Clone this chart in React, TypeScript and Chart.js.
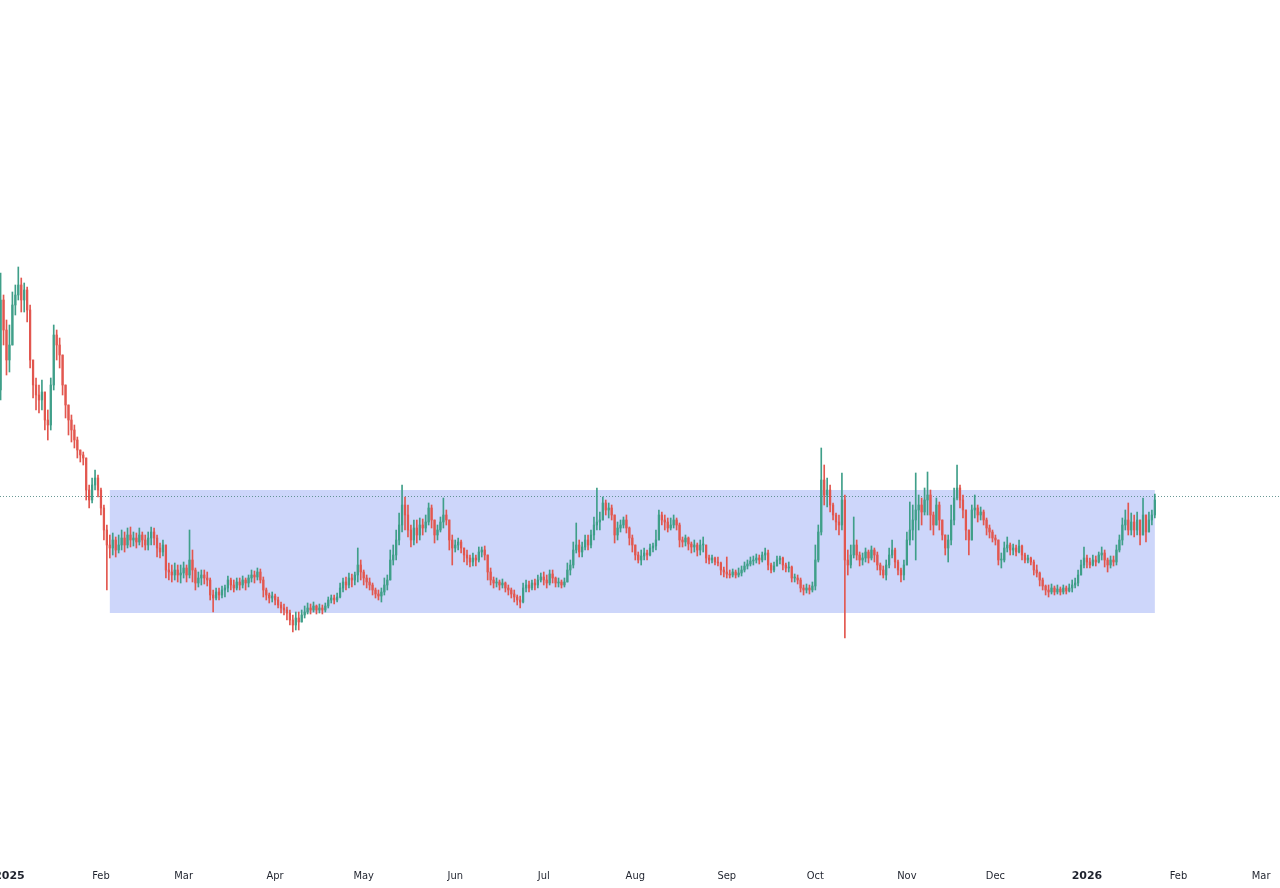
import React, { useEffect, useRef } from 'react';
import { Chart, registerables } from 'chart.js';

Chart.register(...registerables);

// Daily candles, first candle is day -3 (days counted from 1 Jan 2025)
const START_DAY = -3;
const FIRST_OPEN = 61.0;

const CLOSE = [
  70.0, 67.0, 64.0, 65.5, 69.5, 70.5, 71.5, 70.0, 71.0, 69.0,
  64.0, 61.5, 60.5, 60.0, 60.8, 58.0, 57.5, 61.5, 66.5, 65.5,
  64.5, 61.5, 59.5, 58.0, 57.0, 56.0, 55.0, 54.5, 54.2, 51.0,
  50.0, 51.5, 52.2, 51.0, 49.2, 47.0, 45.5, 45.2, 46.0, 45.0,
  45.5, 46.2, 45.5, 46.5, 46.0, 46.2, 45.8, 46.5, 46.0, 45.5,
  46.2, 46.8, 46.2, 45.2, 44.8, 45.5, 43.0, 42.8, 42.5, 43.0,
  42.5, 42.7, 43.2, 42.5, 44.0, 43.0, 41.7, 42.2, 42.5, 42.2,
  42.0, 40.5, 40.2, 40.8, 40.5, 41.0, 41.2, 42.0, 41.5, 41.2,
  41.8, 41.5, 42.0, 41.7, 42.2, 42.5, 42.3, 42.8, 42.0, 41.0,
  40.5, 40.2, 40.4, 40.0, 39.5, 39.2, 39.0, 38.7, 38.0, 37.5,
  38.2, 37.8, 38.5, 38.8, 39.2, 39.0, 39.4, 39.0, 39.2, 39.0,
  39.4, 40.0, 40.2, 40.0, 40.3, 41.2, 41.8, 41.5, 42.2, 42.0,
  42.5, 43.5, 42.8, 42.2, 41.8, 41.5, 41.0, 40.6, 40.4, 40.8,
  41.5, 42.0, 44.0, 44.5, 46.0, 47.5, 49.5, 48.5, 47.0, 46.0,
  47.2, 46.5, 47.5, 47.2, 47.8, 49.2, 48.0, 46.5, 47.0, 47.8,
  48.5, 48.0, 46.0, 45.2, 45.5, 45.8, 45.2, 44.5, 44.2, 43.8,
  44.2, 44.0, 44.8, 45.0, 44.5, 42.8, 42.0, 41.7, 41.8, 41.5,
  41.7, 41.2, 41.0, 40.6, 40.3, 40.0, 39.8, 41.2, 41.5, 41.2,
  41.7, 41.5, 42.0, 42.3, 42.0, 41.7, 42.6, 42.2, 41.7, 41.8,
  41.5, 41.8, 43.0, 43.5, 45.0, 45.5, 44.8, 45.3, 46.0, 45.5,
  46.5, 47.5, 47.8, 48.0, 49.7, 49.0, 49.2, 48.5, 46.5, 47.2,
  47.5, 48.0, 47.2, 46.2, 45.5, 44.5, 44.0, 44.4, 44.7, 44.5,
  45.2, 45.4, 46.0, 48.5, 48.0, 47.8, 47.2, 47.5, 48.0, 47.5,
  46.0, 45.8, 46.2, 45.6, 45.3, 45.5, 45.0, 45.5, 45.5, 44.2,
  44.0, 44.2, 43.8, 43.7, 43.0, 42.8, 42.6, 42.5, 42.8, 42.5,
  42.7, 43.0, 43.4, 43.6, 43.9, 44.0, 44.2, 44.0, 44.5, 44.7,
  43.5, 43.0, 43.4, 44.0, 44.2, 43.5, 43.2, 43.3, 42.2, 42.2,
  42.0, 41.2, 41.0, 41.2, 41.0, 41.4, 44.0, 46.8, 52.0, 50.5,
  51.0, 49.5, 48.5, 47.8, 47.5, 50.0, 44.0, 43.5, 44.5, 45.5,
  44.5, 44.0, 44.2, 44.8, 44.2, 45.0, 44.5, 43.5, 43.0, 42.5,
  43.5, 44.5, 45.0, 43.8, 43.0, 42.5, 43.5, 46.0, 47.0, 48.0,
  49.0, 49.5, 48.8, 50.0, 50.5, 48.5, 47.5, 49.5, 48.0, 46.5,
  45.2, 46.0, 48.0, 50.2, 51.2, 50.0, 49.0, 47.0, 46.0, 49.0,
  49.2, 48.5, 48.8, 48.0, 47.2, 46.8, 46.2, 46.0, 44.0, 44.0,
  45.2, 45.5, 45.0, 45.2, 44.8, 45.4, 44.5, 44.0, 44.2, 43.8,
  43.0, 42.7, 42.0, 41.4, 41.0, 40.8, 41.2, 40.8, 41.1, 40.8,
  41.2, 40.9, 41.2, 41.5, 41.7, 42.5, 43.5, 44.2, 43.8, 43.5,
  44.0, 43.8, 44.5, 44.7, 44.0, 43.5, 44.0, 43.8, 45.0, 46.0,
  47.5, 48.0, 47.0, 47.8, 47.0, 48.0, 46.5, 48.5, 46.8, 48.0,
  48.5, 50.0,
];

const HIGH = [
  72.7, 70.5, 68.0, 67.5, 70.8, 71.5, 73.3, 72.2, 71.7, 71.3,
  69.5, 64.0, 62.2, 61.5, 62.0, 60.5, 59.0, 62.2, 67.5, 67.0,
  66.2, 64.5, 61.5, 59.5, 58.5, 57.5, 56.3, 55.0, 54.8, 54.2,
  51.5, 52.2, 53.0, 52.5, 51.2, 49.5, 47.5, 46.5, 46.7, 46.3,
  46.5, 47.0, 46.8, 47.2, 47.3, 46.8, 46.7, 47.2, 46.8, 46.5,
  46.8, 47.3, 47.2, 46.5, 45.7, 46.0, 45.5, 43.7, 43.5, 43.7,
  43.5, 43.5, 43.8, 43.5, 47.0, 45.0, 43.2, 42.8, 43.0, 43.0,
  42.8, 42.2, 41.0, 41.2, 41.2, 41.4, 41.5, 42.4, 42.2, 42.0,
  42.2, 42.2, 42.4, 42.2, 42.5, 43.0, 42.9, 43.2, 43.1, 42.3,
  41.2, 40.7, 40.8, 40.6, 40.3, 39.8, 39.6, 39.3, 39.0, 38.5,
  38.8, 38.8, 39.0, 39.4, 39.7, 39.6, 39.8, 39.5, 39.6, 39.5,
  39.7, 40.3, 40.5, 40.5, 40.7, 41.7, 42.2, 42.3, 42.7, 42.6,
  42.8, 45.2, 44.0, 43.0, 42.5, 42.2, 41.7, 41.2, 41.0, 41.2,
  42.2, 42.5, 45.0, 45.5, 47.0, 48.7, 51.5, 50.3, 49.5, 47.5,
  48.0, 48.0, 48.2, 48.1, 48.5, 49.7, 49.5, 48.0, 47.5, 48.3,
  50.2, 49.0, 48.0, 46.5, 46.0, 46.2, 46.0, 45.2, 45.0, 44.5,
  44.7, 44.5, 45.3, 45.3, 45.4, 44.5, 43.2, 42.3, 42.2, 42.0,
  42.1, 41.8, 41.5, 41.2, 41.0, 40.5, 40.4, 41.7, 42.0, 41.9,
  42.0, 42.1, 42.5, 42.7, 42.8, 42.5, 43.0, 43.0, 42.3, 42.2,
  42.0, 42.2, 43.7, 44.0, 45.8, 47.7, 46.0, 45.8, 46.5, 46.5,
  47.0, 48.3, 51.2, 48.8, 50.3, 50.0, 49.7, 49.5, 48.5, 47.8,
  48.0, 48.3, 48.5, 47.3, 46.5, 45.5, 44.8, 45.0, 45.2, 45.0,
  45.6, 45.7, 47.0, 49.0, 48.8, 48.5, 48.2, 48.2, 48.5, 48.2,
  47.7, 46.3, 46.5, 46.3, 45.8, 46.0, 45.7, 46.0, 46.3, 45.5,
  44.5, 44.5, 44.3, 44.3, 43.8, 43.3, 44.3, 43.0, 43.1, 43.0,
  43.2, 43.4, 43.8, 44.0, 44.3, 44.4, 44.6, 44.5, 44.8, 45.2,
  45.0, 43.7, 43.8, 44.4, 44.4, 44.3, 43.7, 43.8, 43.4, 42.6,
  42.5, 42.2, 41.5, 41.6, 41.5, 41.8, 45.5, 47.5, 55.2, 53.5,
  52.2, 51.5, 49.7, 48.7, 48.5, 52.7, 50.5, 45.0, 45.5, 48.3,
  46.0, 44.8, 44.7, 45.2, 45.0, 45.4, 45.2, 44.8, 43.7, 43.4,
  44.0, 45.2, 46.0, 45.2, 44.0, 43.2, 44.0, 46.8, 49.8, 49.5,
  52.7, 50.5, 50.2, 51.2, 52.8, 51.0, 48.8, 50.2, 49.8, 48.0,
  46.5, 46.5, 49.5, 51.2, 53.5, 51.5, 50.5, 49.0, 47.0, 49.5,
  50.5, 49.5, 49.3, 49.0, 48.2, 47.5, 47.0, 46.5, 46.0, 44.7,
  45.8, 46.3, 45.7, 45.6, 45.5, 46.0, 45.5, 44.7, 44.5, 44.3,
  44.0, 43.5, 42.8, 42.2, 41.5, 41.5, 41.6, 41.4, 41.5, 41.3,
  41.5, 41.4, 41.6, 42.0, 42.2, 43.0, 44.0, 45.3, 44.5, 44.2,
  44.5, 44.4, 44.8, 45.3, 45.0, 44.2, 44.4, 44.4, 45.5, 46.5,
  48.2, 49.0, 49.7, 48.7, 48.5, 48.8, 48.0, 50.2, 48.5, 48.8,
  49.0, 50.6,
];

const LOW = [
  60.0, 65.5, 62.5, 62.8, 66.0, 68.5, 70.0, 68.8, 68.8, 67.8,
  63.2, 60.2, 59.0, 58.7, 59.0, 57.0, 56.0, 57.0, 61.0, 64.0,
  63.2, 60.5, 58.2, 56.5, 55.8, 55.2, 54.2, 53.8, 53.5, 50.0,
  49.2, 49.7, 51.0, 50.3, 48.5, 46.0, 41.0, 44.2, 44.5, 44.3,
  44.7, 45.0, 44.8, 45.2, 45.3, 45.4, 45.2, 45.5, 45.3, 45.0,
  45.0, 45.5, 45.5, 44.3, 44.2, 44.4, 42.2, 42.0, 41.8, 42.0,
  41.8, 41.7, 42.2, 41.8, 42.2, 41.8, 41.0, 41.3, 41.5, 41.6,
  41.4, 40.0, 38.8, 40.0, 40.0, 40.2, 40.3, 40.8, 41.0, 40.8,
  41.0, 41.0, 41.2, 41.0, 41.3, 41.8, 41.7, 42.0, 41.7, 40.3,
  40.0, 39.7, 39.8, 39.5, 39.2, 38.7, 38.5, 38.0, 37.5, 36.8,
  37.0, 37.0, 37.8, 38.2, 38.6, 38.6, 38.8, 38.6, 38.7, 38.6,
  38.8, 39.2, 39.7, 39.6, 39.8, 40.2, 40.8, 41.0, 41.2, 41.3,
  41.5, 41.8, 42.0, 41.5, 41.2, 41.0, 40.5, 40.2, 40.0, 39.8,
  40.5, 41.0, 42.0, 43.5, 44.0, 45.5, 46.8, 47.0, 46.3, 45.3,
  45.5, 45.7, 46.0, 46.5, 46.8, 47.5, 47.2, 45.7, 46.0, 46.8,
  47.2, 47.5, 45.0, 43.5, 44.8, 45.0, 44.7, 43.8, 43.5, 43.3,
  43.4, 43.4, 43.8, 44.3, 44.0, 42.0, 41.5, 41.2, 41.3, 41.0,
  41.2, 40.8, 40.5, 40.2, 39.8, 39.5, 39.2, 39.7, 40.8, 40.8,
  41.0, 41.0, 41.2, 41.8, 41.5, 41.2, 41.5, 41.7, 41.3, 41.3,
  41.2, 41.3, 42.0, 42.5, 43.2, 44.7, 44.3, 44.3, 45.0, 45.0,
  45.2, 46.0, 47.0, 47.0, 48.0, 48.5, 48.2, 48.0, 45.7, 46.0,
  46.8, 47.2, 46.7, 45.5, 44.8, 44.0, 43.7, 43.5, 44.0, 44.0,
  44.4, 44.8, 45.0, 46.5, 47.5, 47.0, 46.8, 47.0, 47.2, 47.0,
  45.3, 45.3, 45.4, 45.0, 44.7, 44.8, 44.4, 44.5, 44.8, 43.7,
  43.6, 43.7, 43.5, 43.4, 42.5, 42.3, 42.2, 42.2, 42.3, 42.2,
  42.3, 42.4, 42.8, 43.1, 43.4, 43.5, 43.7, 43.6, 43.8, 44.0,
  43.0, 42.7, 42.8, 43.4, 43.6, 43.0, 42.8, 42.8, 41.8, 41.8,
  41.6, 40.8, 40.5, 40.7, 40.6, 40.8, 41.0, 43.8, 46.5, 49.5,
  49.3, 48.8, 48.0, 47.0, 46.5, 47.0, 36.2, 42.5, 43.2, 44.2,
  44.0, 43.4, 43.5, 43.8, 43.7, 44.0, 43.8, 43.0, 42.5, 42.2,
  42.0, 43.2, 44.2, 43.2, 42.5, 41.8, 42.0, 43.5, 45.5, 46.0,
  44.0, 47.0, 47.5, 48.5, 48.5, 47.0, 46.5, 47.5, 47.0, 46.0,
  44.5, 43.8, 45.5, 47.5, 50.0, 49.2, 48.2, 46.0, 44.5, 46.0,
  48.2, 47.8, 48.0, 47.5, 46.5, 46.2, 45.8, 45.5, 43.5, 43.2,
  43.8, 44.8, 44.5, 44.5, 44.4, 44.7, 44.0, 43.7, 43.7, 43.5,
  42.5, 42.3, 41.4, 41.0, 40.5, 40.3, 40.6, 40.5, 40.6, 40.5,
  40.6, 40.6, 40.8, 40.8, 41.2, 41.4, 42.5, 43.2, 43.2, 43.2,
  43.4, 43.4, 43.7, 44.0, 43.3, 42.8, 43.2, 43.4, 43.5, 44.8,
  45.5, 47.0, 46.5, 46.5, 46.3, 46.5, 45.5, 47.0, 45.8, 47.2,
  47.5, 48.2,
];

// Month ticks (day offsets from 1 Jan 2025)
const TICK_DAYS = [0, 31, 59, 90, 120, 151, 181, 212, 243, 273, 304, 334, 365, 396, 424];
const TICK_LABELS = ['2025', 'Feb', 'Mar', 'Apr', 'May', 'Jun', 'Jul', 'Aug', 'Sep', 'Oct', 'Nov', 'Dec', '2026', 'Feb', 'Mar'];
const TICK_BOLD = [true, false, false, false, false, false, false, false, false, false, false, false, true, false, false];

// Visible range
const X_MIN = -3.2;
const X_MAX = 430.4;
const Y_MIN = 13.8;
const Y_MAX = 100;

// Highlighted trading range and last-price level
const RANGE_START = 34;
const RANGE_END = 388;
const RANGE_LOW = 38.7;
const RANGE_HIGH = 51.0;
const LAST_LEVEL = 50.4;

const UP_COLOR = '#3f9f89';
const DOWN_COLOR = '#e2574f';
const RANGE_FILL = 'rgb(205, 214, 250)';
const LEVEL_COLOR = 'rgba(80, 135, 130, 0.85)';

const overlayPlugin = {
  id: 'overlay',
  beforeDatasetsDraw(chart: any) {
    const { ctx, chartArea } = chart;
    const xs = chart.scales.x;
    const ys = chart.scales.y;
    ctx.save();
    const x0 = xs.getPixelForValue(RANGE_START);
    const x1 = xs.getPixelForValue(RANGE_END);
    const y0 = ys.getPixelForValue(RANGE_HIGH);
    const y1 = ys.getPixelForValue(RANGE_LOW);
    ctx.fillStyle = RANGE_FILL;
    ctx.fillRect(x0, y0, x1 - x0, y1 - y0);
    const ly = Math.round(ys.getPixelForValue(LAST_LEVEL)) + 0.5;
    ctx.strokeStyle = LEVEL_COLOR;
    ctx.lineWidth = 1;
    ctx.setLineDash([1, 2]);
    ctx.beginPath();
    ctx.moveTo(chartArea.left, ly);
    ctx.lineTo(chartArea.right, ly);
    ctx.stroke();
    ctx.restore();
  },
  afterDraw(chart: any) {
    const { ctx, chartArea } = chart;
    const xs = chart.scales.x;
    ctx.save();
    ctx.fillStyle = '#1e222d';
    ctx.textAlign = 'center';
    ctx.textBaseline = 'middle';
    TICK_DAYS.forEach((d, i) => {
      const px = xs.getPixelForValue(d);
      ctx.font = TICK_BOLD[i]
        ? 'bold 11px "DejaVu Sans", sans-serif'
        : '11px "DejaVu Sans Condensed", "DejaVu Sans", sans-serif';
      ctx.fillText(TICK_LABELS[i], px, chartArea.bottom + 14);
    });
    ctx.restore();
  },
};

export default function App() {
  const ref = useRef<HTMLCanvasElement>(null);

  useEffect(() => {
    document.body.style.margin = '0';
    const opens = CLOSE.map((_, i) => (i === 0 ? FIRST_OPEN : CLOSE[i - 1]));
    const days = CLOSE.map((_, i) => START_DAY + i);
    const colors = CLOSE.map((c, i) => (c >= opens[i] ? UP_COLOR : DOWN_COLOR));

    const chart = new Chart(ref.current as HTMLCanvasElement, {
      type: 'bar',
      data: {
        datasets: [
          {
            data: days.map((d, i) => ({
              x: d,
              y: [Math.min(LOW[i], opens[i], CLOSE[i]), Math.max(HIGH[i], opens[i], CLOSE[i])],
            })),
            backgroundColor: colors,
            barThickness: 1,
            grouped: false,
            borderWidth: 0,
          } as any,
          {
            data: days.map((d, i) => ({ x: d, y: [opens[i], CLOSE[i]] })),
            backgroundColor: colors,
            barThickness: 1.6,
            grouped: false,
            minBarLength: 1,
            borderWidth: 0,
          } as any,
        ],
      },
      options: {
        animation: false,
        responsive: false,
        devicePixelRatio: 1,
        events: [],
        layout: { padding: { left: 0, right: 0, top: 0, bottom: 26 } },
        scales: {
          x: { type: 'linear', min: X_MIN, max: X_MAX, display: false, offset: false },
          y: { type: 'linear', min: Y_MIN, max: Y_MAX, display: false },
        },
        plugins: { legend: { display: false }, tooltip: { enabled: false } },
      } as any,
      plugins: [overlayPlugin],
    });
    return () => chart.destroy();
  }, []);

  return (
    <div style={{ position: 'fixed', left: 0, top: 0, width: 1280, height: 888, background: '#ffffff' }}>
      <canvas ref={ref} width={1280} height={888} style={{ display: 'block' }} />
    </div>
  );
}
